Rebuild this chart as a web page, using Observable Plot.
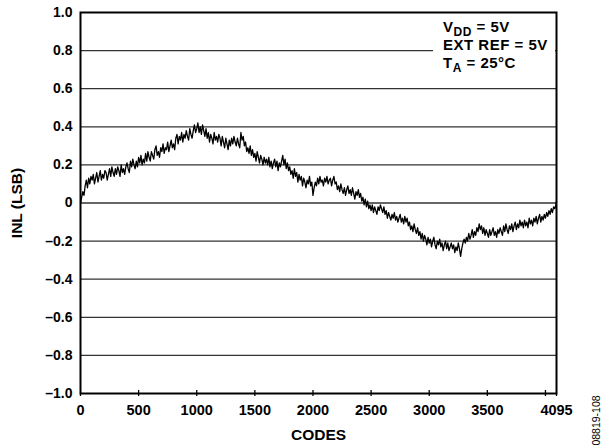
<!DOCTYPE html>
<html><head><meta charset="utf-8">
<script src="https://cdn.jsdelivr.net/npm/d3@7"></script>
<script src="https://cdn.jsdelivr.net/npm/@observablehq/plot@0.6"></script>
<style>
body{margin:0;background:#fff;}
#chart{width:607px;height:445px;}
</style></head><body><div id="chart"></div>
<script>
// DAC codes at which INL was read
const codes = [
  0,10,20,30,40,50,60,70,80,90,100,110,120,130,140,150,160,170,180,190,
  200,210,220,230,240,250,260,270,280,290,300,310,320,330,340,350,360,370,380,390,
  400,410,420,430,440,450,460,470,480,490,500,510,520,530,540,550,560,570,580,590,
  600,610,620,630,640,650,660,670,680,690,700,710,720,730,740,750,760,770,780,790,
  800,810,820,830,840,850,860,870,880,890,900,910,920,930,940,950,960,970,980,990,
  1000,1010,1020,1030,1040,1050,1060,1070,1080,1090,1100,1110,1120,1130,1140,1150,1160,1170,1180,1190,
  1200,1210,1220,1230,1240,1250,1260,1270,1280,1290,1300,1310,1320,1330,1340,1350,1360,1370,1380,1390,
  1400,1410,1420,1430,1440,1450,1460,1470,1480,1490,1500,1510,1520,1530,1540,1550,1560,1570,1580,1590,
  1600,1610,1620,1630,1640,1650,1660,1670,1680,1690,1700,1710,1720,1730,1740,1750,1760,1770,1780,1790,
  1800,1810,1820,1830,1840,1850,1860,1870,1880,1890,1900,1910,1920,1930,1940,1950,1960,1970,1980,1990,
  2000,2010,2020,2030,2040,2050,2060,2070,2080,2090,2100,2110,2120,2130,2140,2150,2160,2170,2180,2190,
  2200,2210,2220,2230,2240,2250,2260,2270,2280,2290,2300,2310,2320,2330,2340,2350,2360,2370,2380,2390,
  2400,2410,2420,2430,2440,2450,2460,2470,2480,2490,2500,2510,2520,2530,2540,2550,2560,2570,2580,2590,
  2600,2610,2620,2630,2640,2650,2660,2670,2680,2690,2700,2710,2720,2730,2740,2750,2760,2770,2780,2790,
  2800,2810,2820,2830,2840,2850,2860,2870,2880,2890,2900,2910,2920,2930,2940,2950,2960,2970,2980,2990,
  3000,3010,3020,3030,3040,3050,3060,3070,3080,3090,3100,3110,3120,3130,3140,3150,3160,3170,3180,3190,
  3200,3210,3220,3230,3240,3250,3260,3270,3280,3290,3300,3310,3320,3330,3340,3350,3360,3370,3380,3390,
  3400,3410,3420,3430,3440,3450,3460,3470,3480,3490,3500,3510,3520,3530,3540,3550,3560,3570,3580,3590,
  3600,3610,3620,3630,3640,3650,3660,3670,3680,3690,3700,3710,3720,3730,3740,3750,3760,3770,3780,3790,
  3800,3810,3820,3830,3840,3850,3860,3870,3880,3890,3900,3910,3920,3930,3940,3950,3960,3970,3980,3990,
  4000,4010,4020,4030,4040,4050,4060,4070,4080,4090,4095
];
// INL (LSB)
const inl = [
  0.00,0.03,0.06,0.04,0.09,0.12,0.08,0.13,0.10,0.14, 0.12,0.15,0.10,0.13,0.16,0.11,0.14,0.17,0.12,0.15,
  0.13,0.17,0.16,0.12,0.15,0.18,0.14,0.19,0.16,0.14, 0.18,0.15,0.19,0.17,0.14,0.20,0.16,0.18,0.15,0.19,
  0.21,0.18,0.16,0.22,0.19,0.23,0.20,0.18,0.22,0.19, 0.24,0.21,0.25,0.20,0.23,0.21,0.26,0.22,0.27,0.24,
  0.22,0.27,0.25,0.23,0.28,0.30,0.25,0.27,0.24,0.29, 0.27,0.31,0.26,0.29,0.28,0.32,0.27,0.30,0.33,0.29,
  0.31,0.28,0.34,0.36,0.31,0.35,0.33,0.37,0.32,0.36, 0.34,0.38,0.35,0.33,0.39,0.36,0.34,0.38,0.41,0.37,
  0.39,0.42,0.37,0.40,0.36,0.41,0.38,0.35,0.39,0.34, 0.37,0.32,0.36,0.34,0.31,0.37,0.33,0.35,0.32,0.36,
  0.34,0.30,0.35,0.32,0.29,0.34,0.31,0.28,0.33,0.30, 0.34,0.31,0.35,0.32,0.30,0.34,0.31,0.29,0.37,0.33,
  0.35,0.30,0.32,0.27,0.29,0.26,0.30,0.25,0.28,0.24, 0.26,0.22,0.27,0.24,0.21,0.25,0.23,0.20,0.24,0.21,
  0.23,0.20,0.24,0.19,0.22,0.18,0.21,0.23,0.19,0.22, 0.17,0.21,0.19,0.22,0.25,0.20,0.23,0.18,0.21,0.17,
  0.19,0.15,0.17,0.13,0.18,0.14,0.16,0.11,0.15,0.12, 0.14,0.09,0.13,0.11,0.08,0.12,0.10,0.14,0.09,0.11,
  0.04,0.08,0.11,0.09,0.13,0.10,0.14,0.11,0.12,0.09, 0.13,0.11,0.14,0.10,0.12,0.13,0.09,0.12,0.14,0.10,
  0.11,0.07,0.09,0.06,0.10,0.07,0.05,0.08,0.04,0.07, 0.09,0.05,0.07,0.04,0.08,0.05,0.02,0.06,0.04,0.07,
  0.03,0.05,0.01,0.03,-0.01,0.02,-0.02,0.01,-0.03,-0.01, -0.04,-0.01,-0.05,-0.02,-0.04,-0.06,-0.02,-0.04,-0.01,-0.03,
  -0.05,-0.02,-0.06,-0.04,-0.08,-0.05,-0.07,-0.09,-0.06,-0.08, -0.05,-0.09,-0.07,-0.10,-0.08,-0.06,-0.10,-0.08,-0.11,-0.07,
  -0.10,-0.08,-0.12,-0.10,-0.14,-0.12,-0.15,-0.11,-0.14,-0.16, -0.13,-0.17,-0.15,-0.19,-0.16,-0.20,-0.17,-0.19,-0.22,-0.18,
  -0.21,-0.19,-0.23,-0.20,-0.18,-0.22,-0.24,-0.20,-0.22,-0.19, -0.23,-0.21,-0.25,-0.22,-0.20,-0.24,-0.21,-0.25,-0.23,-0.21,
  -0.24,-0.22,-0.26,-0.23,-0.25,-0.21,-0.24,-0.28,-0.24,-0.21, -0.19,-0.21,-0.18,-0.20,-0.16,-0.19,-0.17,-0.14,-0.18,-0.15,
  -0.17,-0.13,-0.15,-0.11,-0.14,-0.12,-0.16,-0.13,-0.17,-0.14, -0.16,-0.18,-0.14,-0.17,-0.15,-0.13,-0.17,-0.15,-0.18,-0.14,
  -0.16,-0.13,-0.15,-0.17,-0.12,-0.15,-0.11,-0.14,-0.16,-0.12, -0.14,-0.11,-0.15,-0.12,-0.10,-0.14,-0.11,-0.13,-0.09,-0.12,
  -0.10,-0.13,-0.09,-0.12,-0.10,-0.13,-0.08,-0.11,-0.09,-0.12, -0.08,-0.10,-0.07,-0.11,-0.08,-0.06,-0.10,-0.07,-0.09,-0.06,
  -0.08,-0.05,-0.07,-0.04,-0.06,-0.03,-0.05,-0.02,-0.03,-0.01, 0.01
];
const yTicks = [1.0, 0.8, 0.6, 0.4, 0.2, 0, -0.2, -0.4, -0.6, -0.8, -1.0];
const yTickLabels = ["1.0", "0.8", "0.6", "0.4", "0.2", "0", "\u20130.2", "\u20130.4", "\u20130.6", "\u20130.8", "\u20131.0"];
const gridValues = [0.8, 0.6, 0.4, 0.2, 0, -0.2, -0.4, -0.6, -0.8];
const xTicks = [0, 500, 1000, 1500, 2000, 2500, 3000, 3500, 4000, 4095];
const xTickLabels = ["0", "500", "1000", "1500", "2000", "2500", "3000", "3500", "", "4095"];
const xLabel = "CODES";
const yLabel = "INL (LSB)";
const figureId = "08819-108";
const noteLines = [
  {main: "V", sub: "DD", rest: " = 5V"},
  {main: "EXT REF = 5V", sub: "", rest: ""},
  {main: "T", sub: "A", rest: " = 25\u00B0C"}
];

const data = codes.map((c, i) => ({code: c, inl: inl[i]}));
const yLab = new Map(yTicks.map((v, i) => [v, yTickLabels[i]]));
const xLab = new Map(xTicks.map((v, i) => [v, xTickLabels[i]]));
const FONT = '"Liberation Sans", Arial, Helvetica, sans-serif';

const plot = Plot.plot({
  width: 607, height: 445,
  marginLeft: 80, marginRight: 51, marginTop: 12, marginBottom: 52,
  style: {fontFamily: FONT, fontWeight: "bold", fontSize: "14px", color: "#000", background: "#fff"},
  x: {domain: [0, 4095]},
  y: {domain: [-1, 1]},
  marks: [
    Plot.ruleY(gridValues, {stroke: "#333", strokeWidth: 1.3}),
    Plot.line(data, {x: "code", y: "inl", stroke: "#000", strokeWidth: 1.3}),
    Plot.ruleX(xTicks.slice(1, -1), {y1: -1, y2: -0.984, stroke: "#000", strokeWidth: 1.3}),
    Plot.frame({stroke: "#000", strokeWidth: 2}),
    Plot.axisY({ticks: yTicks, tickFormat: d => yLab.get(d), tickSize: 0, tickPadding: 8, label: null, fontSize: 14, fontWeight: "bold"}),
    Plot.axisX({ticks: xTicks, tickFormat: d => xLab.get(d) ?? "", tickSize: 3, tickPadding: 8, label: null, fontSize: 14.5, fontWeight: "bold", strokeWidth: 1.3}),
    Plot.text([xLabel], {frameAnchor: "bottom", dy: 42, textAnchor: "middle", lineAnchor: "middle", fontSize: 15.5, fontWeight: "bold", fill: "#000"}),
    Plot.text([yLabel], {frameAnchor: "left", dx: -63, rotate: -90, textAnchor: "middle", lineAnchor: "middle", fontSize: 15.5, fontWeight: "bold", fill: "#000"}),
    Plot.text([figureId], {frameAnchor: "bottom-right", dx: 40, dy: 27, rotate: -90, textAnchor: "middle", lineAnchor: "middle", fontSize: 10.5, fontWeight: "normal", fill: "#000"})
  ]
});
document.getElementById("chart").appendChild(plot);

// Conditions annotation (with subscripts) over a white patch that interrupts the 0.8 gridline
const svg = d3.select(plot);
const g = svg.append("g")
  .attr("font-family", FONT).attr("font-weight", "bold")
  .attr("text-anchor", "start").attr("fill", "#000");
g.append("rect").attr("x", 433).attr("y", 42).attr("width", 122).attr("height", 16).style("fill", "#fff");
noteLines.forEach((ln, i) => {
  const t = g.append("text").attr("x", 443).attr("y", 32 + i * 18)
    .attr("font-size", 15).style("text-anchor", "start").style("letter-spacing", "0.5px");
  t.append("tspan").text(ln.main);
  if (ln.sub) {
    t.append("tspan").attr("dy", 4).attr("font-size", 12).text(ln.sub);
    t.append("tspan").attr("dy", -4).text(ln.rest);
  }
});
</script></body></html>
